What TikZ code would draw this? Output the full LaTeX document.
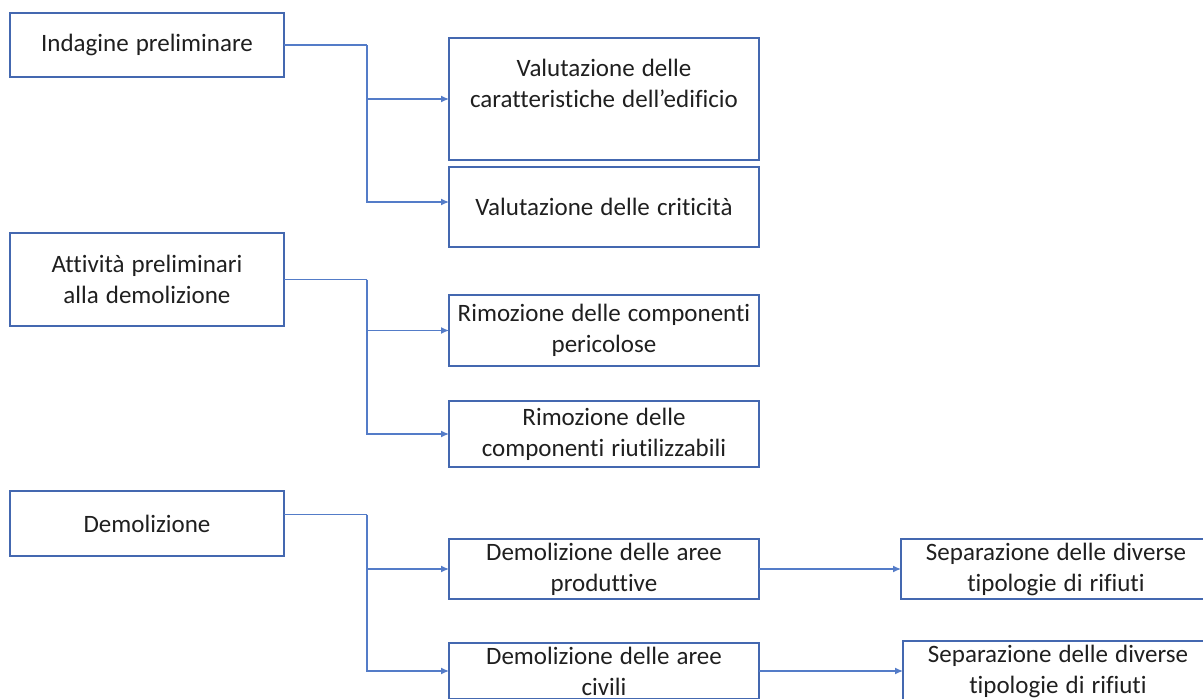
\documentclass[tikz,border=0pt]{standalone}
\usepackage{fontspec}
\setmainfont{Carlito}[Ligatures=NoCommon, WordSpace=1.25]
\usetikzlibrary{arrows.meta}
\definecolor{boxblue}{RGB}{68,104,176}
\definecolor{wireblue}{RGB}{84,124,200}
\begin{document}
\begin{tikzpicture}[x=1pt, y=-1pt,
        stage/.style={draw=boxblue, line width=1.1pt, minimum width=274, align=center,
            inner sep=0pt, outer sep=0pt, text=black!88, font=\fontsize{25}{31}\selectfont},
        task/.style={stage, minimum width=310},
        wire/.style={draw=wireblue, line width=1.3pt},
        feed/.style={wire, -{Latex[length=8pt, width=7pt]}}]
        \useasboundingbox (0,0) rectangle (1203,699);
        \clip (0,0) rectangle (1203,699);

        \node[stage, minimum height=64] (indagine) at (147, 45)  {Indagine preliminare};
        \node[stage, minimum height=93] (attivita) at (147, 279.5) {Attività preliminari\\alla demolizione};
        \node[stage, minimum height=65] (demol) at (147, 523.5) {Demolizione};

        \node[task, minimum height=122] (caratt) at (604, 99)  {Valutazione delle\\caratteristiche dell’edificio\\\mbox{}};
        \node[task, minimum height=80]  (critic) at (604, 207) {Valutazione delle criticità};
        \node[task, minimum height=71]  (pericol) at (604, 330.5) {Rimozione delle componenti\\pericolose};
        \node[task, minimum height=66]  (riutil) at (604, 434) {Rimozione delle\\componenti riutilizzabili};
        \node[task, minimum height=60]  (produt) at (604, 569) {Demolizione delle aree\\produttive};
        \node[task, minimum height=56]  (civili) at (604, 671) {Demolizione delle aree\\civili};
        \node[task, minimum height=60]  (separa) at (1056, 569) {Separazione delle diverse\\tipologie di rifiuti};
        \node[task, minimum height=60]  (separb) at (1058, 671) {Separazione delle diverse\\tipologie di rifiuti};

        % rami verso le attivita
        \draw[wire] (indagine.east) -- ++(83,0) coordinate (ja);
        \draw[feed] (ja) |- (caratt.west);
        \draw[feed] (ja) |- ([yshift=5pt]critic.west);

        \draw[wire] (attivita.east) -- ++(83,0) coordinate (jb);
        \draw[feed] (jb) |- (pericol.west);
        \draw[feed] (jb) |- (riutil.west);

        \draw[wire] ([yshift=9pt]demol.east) -- ++(83,0) coordinate (jc);
        \draw[feed] (jc) |- (produt.west);
        \draw[feed] (jc) |- (civili.west);

        \draw[feed] (produt.east) -- (separa.west);
        \draw[feed] (civili.east) -- (separb.west);
    \end{tikzpicture}
\end{document}
